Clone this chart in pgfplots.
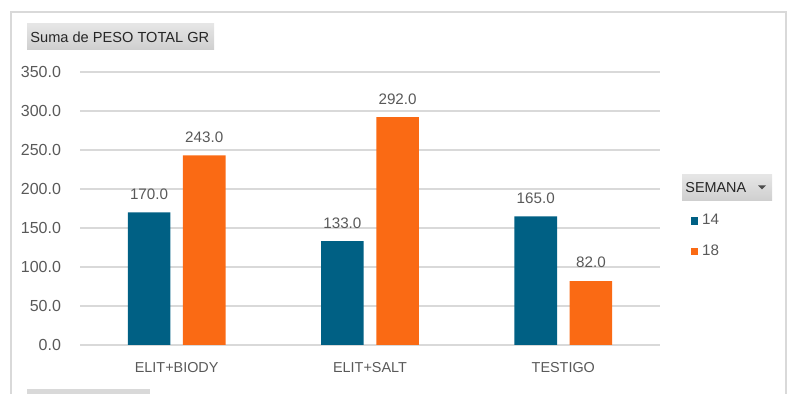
\documentclass[border=0pt]{standalone}
\usepackage{pgfplots}
\pgfplotsset{compat=1.18}
\usepackage{fontspec}
\setmainfont{Liberation Sans}
\definecolor{c14}{HTML}{006084}
\definecolor{c18}{HTML}{FA6A14}
\definecolor{gridc}{HTML}{D9D9D9}
\definecolor{txt}{HTML}{595959}
\begin{document}
\begin{tikzpicture}
\useasboundingbox (0,0) rectangle (400pt,197pt);
% frame
\draw[gridc, line width=0.8pt] (5.5pt,0) -- (5.5pt,191pt) -- (393pt,191pt) -- (393pt,0);
% title button
\shade[top color=gray!20, bottom color=gray!38] (13.5pt,172pt) rectangle (107pt,185pt);
\node[anchor=west, inner sep=0pt, font=\fontsize{7.3pt}{8pt}\selectfont, text=black!85] at (15pt,178.5pt) {Suma de PESO TOTAL GR};
% legend title button
\shade[top color=gray!20, bottom color=gray!38] (341pt,96.5pt) rectangle (386pt,109.5pt);
\node[anchor=west, inner sep=0pt, font=\fontsize{7.2pt}{8pt}\selectfont, text=black!85] at (342.5pt,103pt) {SEMANA};
\fill[black!70] (379pt,104.3pt) -- (383pt,104.3pt) -- (381pt,102.3pt) -- cycle;
% bottom strip
\fill[gridc] (13.5pt,0) rectangle (75pt,2.5pt);
\begin{axis}[
  at={(40pt,24.5pt)}, anchor=south west,
  width=290pt, height=136.5pt, scale only axis,
  xmin=-0.5, xmax=2.5, ymin=0, ymax=350,
  xtick={0,1,2}, xticklabels={ELIT+BIODY,ELIT+SALT,TESTIGO},
  ytick={0,50,...,350},
  ymajorgrids, grid style={gridc, line width=0.75pt},
  axis line style={draw=none},
  major tick length=0pt,
  tick label style={text=txt},
  yticklabel style={font=\fontsize{8pt}{9pt}\selectfont, xshift=-6pt},
  xticklabel style={font=\fontsize{7.2pt}{8pt}\selectfont, yshift=-5pt},
  /pgf/number format/.cd, fixed, fixed zerofill, precision=1, assume math mode=true,
  /pgfplots/.cd,
  ybar, bar width=21.3pt,
  nodes near coords,
  every node near coord/.append style={font=\fontsize{7.6pt}{9pt}\selectfont, text=txt, yshift=3pt, /pgf/number format/fixed, /pgf/number format/fixed zerofill, /pgf/number format/precision=1, /pgf/number format/assume math mode=true},
  legend style={at={(1.052,0.495)}, anchor=north west, draw=none, fill=none, inner sep=0pt,
    font=\fontsize{7.6pt}{9pt}\selectfont, text=txt, row sep=4.5pt, /tikz/every even column/.append style={column sep=2pt}},
  legend cell align=left,
  legend image code/.code={\fill[#1] (0pt,-1.9pt) rectangle (3.8pt,1.9pt);},
]
\addplot[fill=c14, draw=none, bar shift=-13.8pt] coordinates {(0,170) (1,133) (2,165)};
\addplot[fill=c18, draw=none, bar shift=13.8pt] coordinates {(0,243) (1,292) (2,82)};
\legend{14,18}
\end{axis}
\end{tikzpicture}
\end{document}
